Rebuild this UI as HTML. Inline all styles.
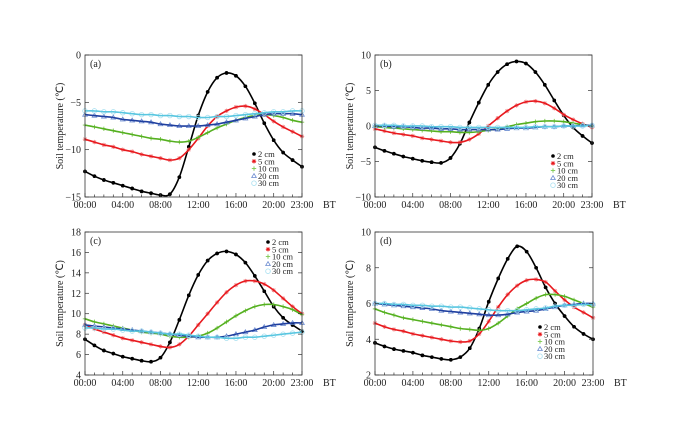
<!DOCTYPE html>
<html><head><meta charset="utf-8">
<style>
html,body{margin:0;padding:0;background:#fff;}
svg{display:block;font-family:"Liberation Serif",serif;}
</style></head>
<body>
<svg id="chart" width="700" height="441" viewBox="0 0 700 441"></svg>
<script>
const hours = [0,1,2,3,4,5,6,7,8,9,10,11,12,13,14,15,16,17,18,19,20,21,22,23];
const xTickHours = [0,4,8,12,16,20,23];
const xTickLabels = ["00:00","04:00","08:00","12:00","16:00","20:00","23:00"];
const depths = ["2 cm","5 cm","10 cm","20 cm","30 cm"];

const a2 = [-12.3,-12.8,-13.2,-13.5,-13.8,-14.1,-14.4,-14.6,-14.8,-14.7,-12.9,-9.7,-6.4,-3.9,-2.4,-1.9,-2.2,-3.3,-5.1,-7.2,-9.0,-10.3,-11.1,-11.8];
const a5 = [-8.9,-9.2,-9.5,-9.7,-10.0,-10.2,-10.5,-10.7,-10.9,-11.1,-10.9,-10.0,-8.8,-7.5,-6.5,-5.9,-5.5,-5.4,-5.7,-6.3,-7.0,-7.6,-8.1,-8.6];
const a10 = [-7.4,-7.6,-7.8,-8.0,-8.2,-8.4,-8.6,-8.8,-8.9,-9.1,-9.2,-9.1,-8.7,-8.2,-7.7,-7.3,-6.9,-6.6,-6.4,-6.3,-6.4,-6.6,-6.9,-7.1];
const a20 = [-6.3,-6.4,-6.5,-6.6,-6.8,-6.9,-7.0,-7.1,-7.3,-7.4,-7.5,-7.5,-7.5,-7.4,-7.3,-7.1,-6.9,-6.7,-6.5,-6.3,-6.2,-6.2,-6.2,-6.3];
const a30 = [-5.9,-5.9,-6.0,-6.0,-6.1,-6.2,-6.3,-6.3,-6.4,-6.4,-6.5,-6.5,-6.6,-6.6,-6.5,-6.5,-6.4,-6.3,-6.2,-6.1,-6.0,-6.0,-5.9,-5.9];

const b2 = [-3.0,-3.5,-3.9,-4.3,-4.6,-4.9,-5.1,-5.2,-4.5,-2.5,0.5,3.3,5.8,7.6,8.7,9.1,8.8,7.6,5.8,3.6,1.5,-0.2,-1.4,-2.4];
const b5 = [-0.4,-0.7,-1.0,-1.2,-1.4,-1.7,-1.9,-2.1,-2.3,-2.3,-1.9,-1.1,0,1.1,2.1,2.9,3.4,3.5,3.2,2.5,1.6,0.9,0.3,-0.2];
const b10 = [-0.1,-0.2,-0.3,-0.4,-0.5,-0.6,-0.7,-0.8,-0.8,-0.9,-0.9,-0.8,-0.6,-0.4,-0.1,0.2,0.4,0.6,0.7,0.7,0.6,0.4,0.2,0];
const b20 = [0,0,-0.1,-0.1,-0.2,-0.3,-0.3,-0.4,-0.4,-0.5,-0.5,-0.5,-0.5,-0.5,-0.4,-0.3,-0.3,-0.2,-0.1,-0.1,0,0,0.1,0.1];
const b30 = [0.1,0.1,0.1,0,0,0,-0.1,-0.1,-0.1,-0.2,-0.2,-0.2,-0.2,-0.2,-0.2,-0.2,-0.2,-0.1,-0.1,-0.1,0,0,0,0.1];

const c2 = [7.5,6.9,6.4,6.1,5.8,5.6,5.4,5.3,5.7,7.2,9.4,11.8,13.8,15.2,15.9,16.1,15.8,15.0,13.7,12.2,10.7,9.6,8.9,8.3];
const c5 = [8.9,8.5,8.2,7.9,7.6,7.4,7.2,7.0,6.8,6.7,7.0,7.8,8.9,10.0,11.1,12.1,12.8,13.2,13.2,12.9,12.3,11.5,10.7,10.0];
const c10 = [9.5,9.2,9.0,8.8,8.6,8.4,8.2,8.1,8.0,7.8,7.7,7.7,7.8,8.1,8.6,9.2,9.8,10.3,10.7,10.9,10.9,10.7,10.4,9.9];
const c20 = [8.9,8.8,8.7,8.6,8.5,8.4,8.3,8.2,8.1,8.0,7.9,7.8,7.7,7.7,7.7,7.8,8.0,8.2,8.4,8.7,8.9,9.0,9.1,9.1];
const c30 = [8.6,8.6,8.5,8.5,8.4,8.3,8.3,8.2,8.1,8.0,8.0,7.9,7.8,7.7,7.7,7.6,7.6,7.7,7.7,7.8,7.9,8.0,8.1,8.2];

const d2 = [3.8,3.6,3.45,3.35,3.25,3.1,3.0,2.9,2.85,3.0,3.5,4.6,6.1,7.4,8.5,9.2,8.9,8.0,6.9,6.0,5.3,4.7,4.3,4.0];
const d5 = [4.9,4.7,4.55,4.45,4.3,4.2,4.1,4.0,3.9,3.85,3.9,4.3,5.0,5.8,6.5,7.0,7.3,7.35,7.2,6.7,6.2,5.8,5.5,5.2];
const d10 = [5.7,5.5,5.35,5.2,5.1,5.0,4.9,4.8,4.7,4.6,4.55,4.5,4.6,4.9,5.3,5.7,6.0,6.3,6.5,6.5,6.4,6.2,6.0,5.8];
const d20 = [6.0,5.95,5.9,5.85,5.8,5.75,5.7,5.6,5.55,5.5,5.45,5.4,5.35,5.35,5.4,5.5,5.55,5.6,5.7,5.8,5.9,5.95,6.0,6.0];
const d30 = [6.0,6.0,5.95,5.95,5.9,5.9,5.85,5.85,5.8,5.8,5.75,5.7,5.65,5.6,5.6,5.6,5.65,5.7,5.75,5.85,5.9,5.9,5.95,5.95];

const aTicks = [0,-5,-10,-15];
const bTicks = [10,5,0,-5,-10];
const cTicks = [4,6,8,10,12,14,16,18];
const dTicks = [2,4,6,8,10];

const NS = "http://www.w3.org/2000/svg";
const svg = document.getElementById("chart");
const lineColors = ["#000000","#e8191e","#55b020","#1f3f9f","#58c6e0"];
const markColors = ["#000000","#f07a7c","#7cc850","#6a8ad0","#a8e0f0"];

function el(tag, attrs, parent){
  const e = document.createElementNS(NS, tag);
  for (const k in attrs) e.setAttribute(k, attrs[k]);
  (parent||svg).appendChild(e);
  return e;
}

function smoothPath(pts){
  let d = "M"+pts[0][0].toFixed(1)+","+pts[0][1].toFixed(1);
  for (let i=0;i<pts.length-1;i++){
    const p0=pts[Math.max(0,i-1)], p1=pts[i], p2=pts[i+1], p3=pts[Math.min(pts.length-1,i+2)];
    const c1x=p1[0]+(p2[0]-p0[0])/6, c1y=p1[1]+(p2[1]-p0[1])/6;
    const c2x=p2[0]-(p3[0]-p1[0])/6, c2y=p2[1]-(p3[1]-p1[1])/6;
    d+=" C"+c1x.toFixed(1)+","+c1y.toFixed(1)+" "+c2x.toFixed(1)+","+c2y.toFixed(1)+" "+p2[0].toFixed(1)+","+p2[1].toFixed(1);
  }
  return d;
}

function marker(g, type, x, y, col){
  let m;
  if (type===0){ m = el("circle",{cx:x,cy:y,r:1.8,fill:col},g); }
  else if (type===1){ m = el("path",{d:`M${x-2.2},${y}h4.4M${x},${y-2.2}v4.4M${x-1.6},${y-1.6}l3.2,3.2M${x-1.6},${y+1.6}l3.2,-3.2`,stroke:col,"stroke-width":0.8,fill:"none"},g); }
  else if (type===2){ m = el("path",{d:`M${x-2.2},${y}h4.4M${x},${y-2.2}v4.4`,stroke:col,"stroke-width":0.9,fill:"none"},g); }
  else if (type===3){ m = el("path",{d:`M${x},${y-2.3}L${x+2.3},${y+1.6}L${x-2.3},${y+1.6}Z`,stroke:col,"stroke-width":0.8,fill:"none"},g); }
  else { m = el("circle",{cx:x,cy:y,r:2.3,stroke:col,"stroke-width":0.8,fill:"none"},g); }
  return m;
}

function panel(cfg){
  const {id,label,x0,x1,y0,y1,ymin,ymax,ticks,series,legX,legY} = cfg;
  const g = el("g",{});
  
  
  const xs = h => x0 + (h/23)*(x1-x0);
  const ys = v => y1 - (v-ymin)/(ymax-ymin)*(y1-y0);
  // series
  series.forEach((vals,si)=>{
    const sg = el("g",{},g);
    
    
    const pts = hours.map((h,i)=>[xs(h), ys(vals[i])]);
    hours.forEach((h,i)=>{ marker(sg, si, xs(h), ys(vals[i]), markColors[si]); });
    el("path",{d:smoothPath(pts),stroke:lineColors[si],"stroke-width":1.6,fill:"none"},sg);
    if (si===0) hours.forEach((h,i)=>{ marker(sg, 0, xs(h), ys(vals[i]), "#000"); });
  });
  // frame
  const fr = el("rect",{x:x0,y:y0,width:x1-x0,height:y1-y0,fill:"none",stroke:"#333","stroke-width":0.8},g);
  
  
  // x ticks (hourly minor)
  hours.forEach(h=>{
    const major = xTickHours.includes(h);
    el("line",{x1:xs(h),x2:xs(h),y1:y1,y2:y1-(major?4:2.5),stroke:"#333","stroke-width":0.7},g);
  });
  xTickHours.forEach((h,i)=>{
    const t = el("text",{x:xs(h),y:y1+11,"font-size":10,"text-anchor":"middle",fill:"#222"},g);
    t.textContent = xTickLabels[i];
    
    
  });
  const bt = el("text",{x:x1+21,y:y1+11,"font-size":10,fill:"#222"},g);
  bt.textContent = "BT";
  
  
  // y ticks
  ticks.forEach(v=>{
    el("line",{x1:x0,x2:x0+4,y1:ys(v),y2:ys(v),stroke:"#333","stroke-width":0.7},g);
    el("line",{x1:x1,x2:x1-4,y1:ys(v),y2:ys(v),stroke:"#333","stroke-width":0.7},g);
    const t = el("text",{x:x0-4,y:ys(v)+3.5,"font-size":10,"text-anchor":"end",fill:"#222"},g);
    t.textContent = v<0 ? "\u2212"+Math.abs(v) : String(v);
    
    
  });
  const yt = el("text",{x:0,y:0,"font-size":10,"text-anchor":"middle",fill:"#222",transform:`translate(${x0-22},${(y0+y1)/2}) rotate(-90)`},g);
  yt.textContent = "Soil temperature (\u2103)";
  
  
  const pl = el("text",{x:x0+5,y:y0+12,"font-size":10,fill:"#222"},g);
  pl.textContent = label;
  
  
  // legend
  depths.forEach((d,i)=>{
    const lg = el("g",{},g);
    
    
    marker(lg, i, legX, legY+i*7.3, i===0?"#000":(i===1?"#e8191e":markColors[i]));
    const t = el("text",{x:legX+4,y:legY+i*7.3+3,"font-size":8.5,fill:"#222"},lg);
    t.textContent = d;
  });
}

panel({id:"a",label:"(a)",x0:85,x1:302,y0:55,y1:197,ymin:-15,ymax:0,ticks:aTicks,series:[a2,a5,a10,a20,a30],legX:254,legY:154});
panel({id:"b",label:"(b)",x0:375,x1:592,y0:55,y1:197,ymin:-10,ymax:10,ticks:bTicks,series:[b2,b5,b10,b20,b30],legX:553,legY:156});
panel({id:"c",label:"(c)",x0:85,x1:302,y0:232,y1:375,ymin:4,ymax:18,ticks:cTicks,series:[c2,c5,c10,c20,c30],legX:268,legY:242});
panel({id:"d",label:"(d)",x0:375,x1:593,y0:232,y1:375,ymin:2,ymax:10,ticks:dTicks,series:[d2,d5,d10,d20,d30],legX:540,legY:327});
</script>
</body></html>
